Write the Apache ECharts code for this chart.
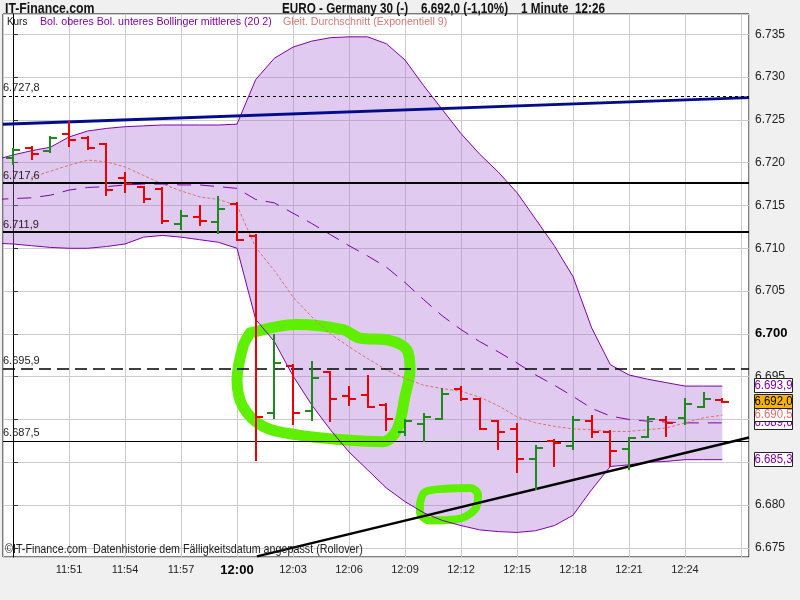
<!DOCTYPE html>
<html><head><meta charset="utf-8">
<script src="https://cdn.jsdelivr.net/npm/echarts@6/dist/echarts.min.js"></script>
<style>html,body{margin:0;padding:0;background:#f0f0f0}#c{width:800px;height:600px}</style>
</head><body><div id="c"></div>
<script>
// ---------- DATA ----------
const xTickLabels = ['11:51','11:54','11:57','12:00','12:03','12:06','12:09','12:12','12:15','12:18','12:21','12:24'];
const yTickLabels = ['6.675','6.680','6.685','6.690','6.695','6.700','6.705','6.710','6.715','6.720','6.725','6.730','6.735'];

// one bar per minute, index 0 = 11:48
const barOpen  = [6720.5,6721.7,6721.4,6723.4,6722.9,6722.2,6718.2,6717.1,6716.9,6712.8,6713.6,6713.1,6715.2,6711.4,6690.8,6696.2,6691.0,6695.5,6692.7,6692.8,6691.7,6688.5,6689.5,6690.1,6693.5,6692.4,6689.8,6688.9,6685.4,6687.5,6686.9,6689.8,6688.5,6686.5,6688.0,6689.9,6690.2,6691.5,6692.3];
const barHigh  = [6721.6,6721.8,6723.0,6724.8,6723.0,6722.2,6718.8,6717.2,6717.0,6714.4,6714.9,6716.0,6715.3,6711.6,6699.9,6696.4,6696.7,6695.6,6693.8,6695.1,6691.8,6689.9,6690.6,6693.6,6693.8,6692.4,6689.8,6689.5,6686.9,6687.6,6690.3,6690.4,6688.6,6687.8,6690.3,6690.3,6692.4,6693.1,6692.4];
const barLow   = [6719.9,6720.4,6721.3,6722.0,6721.6,6716.2,6716.6,6715.4,6713.0,6712.2,6712.7,6711.8,6711.0,6685.3,6690.2,6689.5,6689.9,6689.8,6691.7,6691.5,6688.8,6688.2,6687.5,6690.0,6692.3,6688.9,6686.5,6683.9,6681.9,6684.6,6686.5,6688.0,6684.6,6684.2,6688.0,6688.1,6689.5,6691.5,6692.0];
const barClose = [6721.5,6721.0,6722.9,6722.7,6721.7,6716.8,6717.5,6715.7,6713.2,6713.8,6713.2,6714.6,6711.0,6690.3,6696.6,6690.8,6694.8,6692.4,6692.4,6691.5,6690.1,6689.8,6690.3,6693.0,6692.4,6688.9,6688.5,6685.4,6686.7,6687.3,6689.9,6688.5,6686.3,6687.8,6690.0,6689.6,6691.8,6692.4,6692.0];

const bandStart = -1;   // index of first Bollinger value
const bandUpper  = [6720.3,6720.9,6721.4,6721.8,6723.0,6723.7,6724.0,6724.2,6724.3,6724.4,6724.4,6724.4,6724.4,6724.5,6729.7,6732.2,6733.5,6734.2,6734.6,6734.7,6734.7,6733.9,6732.0,6729.0,6726.2,6723.4,6721.0,6718.9,6716.5,6713.4,6710.3,6706.7,6700.7,6696.4,6695.2,6694.7,6694.3,6693.9,6693.9,6693.9];
const bandLower  = [6710.6,6710.5,6710.3,6710.1,6710.0,6710.0,6710.2,6710.5,6711.3,6711.5,6711.3,6711.0,6710.7,6710.0,6701.7,6699.1,6695.1,6691.7,6688.8,6686.2,6684.1,6682.0,6680.4,6679.1,6678.2,6677.6,6677.1,6676.9,6676.8,6677.0,6677.6,6678.8,6681.8,6684.5,6684.7,6685.0,6685.1,6685.3,6685.3,6685.3];
const bandMiddle = [6715.7,6715.8,6715.9,6716.2,6716.8,6717.1,6717.2,6717.4,6717.5,6717.5,6717.4,6717.4,6717.2,6717.0,6715.7,6715.3,6714.1,6712.9,6711.6,6710.3,6709.1,6707.8,6706.0,6704.0,6702.1,6700.5,6699.1,6697.9,6696.6,6695.2,6694.0,6692.7,6691.3,6690.4,6690.0,6689.8,6689.7,6689.6,6689.6,6689.6];

const emaStart = 1;
const emaValues = [6718.3,6719.0,6719.7,6720.3,6720.1,6719.5,6718.5,6717.5,6716.7,6716.0,6715.7,6715.0,6710.1,6707.4,6704.3,6702.0,6700.0,6698.5,6697.1,6695.8,6694.8,6694.0,6693.6,6693.3,6692.6,6691.6,6690.3,6689.6,6689.2,6688.9,6688.8,6688.6,6688.6,6688.8,6689.0,6689.6,6690.2,6690.5];

const levelValues = [6727.8, 6717.6, 6711.9, 6695.9, 6687.5];
const levelLabels = ['6.727,8','6.717,6','6.711,9','6.695,9','6.687,5'];

const blueTrend  = [[-0.54, 6724.5], [39.43, 6727.6]];
const blackTrend = [[13.07, 6674.0], [39.43, 6687.9]];

const sideLabels = [
  {value: 6689.6, text: '6.689,6', color: '#8000a8', bg: '#fff'},
  {value: 6690.5, text: '6.690,5', color: '#e07070', bg: '#fff'},
  {value: 6692.0, text: '6.692,0', color: '#000', bg: '#f8b400'},
  {value: 6693.9, text: '6.693,9', color: '#8000a8', bg: '#fff'},
  {value: 6685.3, text: '6.685,3', color: '#8000a8', bg: '#fff'}
];

const greenLoopBig = [[12.70,6700.1],[15.21,6701.1],[17.68,6700.5],[18.59,6699.5],[20.04,6699.3],[21.11,6698.1],[21.27,6695.8],[21.0,6692.7],[20.57,6688.8],[19.82,6687.4],[17.89,6687.6],[15.21,6688.2],[13.39,6689.2],[12.32,6691.5],[12.0,6694.6],[12.32,6698.5],[12.70,6700.1]];
const greenLoopSmall = [[21.80,6680.1],[22.07,6681.5],[23.14,6681.9],[24.48,6682.0],[24.91,6681.2],[24.75,6679.5],[23.68,6678.3],[22.34,6678.2],[21.80,6679.2],[21.80,6680.1]];

// ---------- CHART ----------
const FONT = '"Liberation Sans", Arial, sans-serif';
const RED = '#ee0000', GREEN = '#1e8a1e', PURPLE = '#8000a8';
const chart = echarts.init(document.getElementById('c'), null, {renderer: 'canvas'});

function xLabel(v) {
  const k = Math.round(v);
  if (Math.abs(v - k) > 1e-6 || k % 3 !== 0) return '';
  const idx = k / 3 - 1;
  if (idx < 0 || idx >= xTickLabels.length) return '';
  const t = xTickLabels[idx];
  return t === '12:00' ? '{b|' + t + '}' : t;
}
function yLabel(v) {
  const k = Math.round((v - 6675) / 5);
  if (Math.abs(v - (6675 + 5 * k)) > 1e-6 || k < 0 || k >= yTickLabels.length) return '';
  const t = yTickLabels[k];
  return t === '6.700' ? '{b|' + t + '}' : t;
}

const series = [
  { // Bollinger band fill (polygon between upper and lower)
    type: 'custom', z: 1, silent: true,
    data: bandUpper.map((v, k) => [bandStart + k, v, bandLower[k]]),
    encode: {x: 0, y: [1, 2]},
    renderItem: function (params, api) {
      if (params.dataIndex !== 0) return null;
      const pts = [];
      for (let k = 0; k < bandUpper.length; k++) pts.push(api.coord([bandStart + k, bandUpper[k]]));
      for (let k = bandLower.length - 1; k >= 0; k--) pts.push(api.coord([bandStart + k, bandLower[k]]));
      const cs = params.coordSys;
      return {
        type: 'polygon', shape: {points: pts},
        style: {fill: 'rgba(168,108,214,0.36)'},
        clipPath: {type: 'rect', shape: {x: cs.x, y: cs.y, width: cs.width, height: cs.height}}
      };
    }
  },
  { type: 'line', symbol: 'none', silent: true, smooth: 0.35,
    data: greenLoopBig, lineStyle: {color: '#5ef000', width: 11, cap: 'round', join: 'round'}, z: 2 },
  { type: 'line', symbol: 'none', silent: true, smooth: 0.35,
    data: greenLoopSmall, lineStyle: {color: '#5ef000', width: 8, cap: 'round', join: 'round'}, z: 2 },
  { type: 'line', symbol: 'none', silent: true,
    data: bandUpper.map((v, k) => [bandStart + k, v]), lineStyle: {color: PURPLE, width: 1}, z: 3 },
  { type: 'line', symbol: 'none', silent: true,
    data: bandLower.map((v, k) => [bandStart + k, v]), lineStyle: {color: PURPLE, width: 1}, z: 3 },
  { type: 'line', symbol: 'none', silent: true,
    data: bandMiddle.map((v, k) => [bandStart + k, v]), lineStyle: {color: PURPLE, width: 1, type: [14, 9]}, z: 3 },
  { type: 'line', symbol: 'none', silent: true,
    data: emaValues.map((v, k) => [emaStart + k, v]), lineStyle: {color: '#e07070', width: 1, type: [3, 2]}, z: 3 },
  { type: 'line', symbol: 'none', silent: true,
    data: blackTrend, lineStyle: {color: '#000', width: 2.5}, z: 4,
    markLine: {
      silent: true, symbol: ['none', 'none'], animation: false,
      data: levelValues.map((v, k) => ({
        yAxis: v,
        lineStyle: k === 0 ? {type: [3, 3], width: 1, color: '#000'}
                 : k === 3 ? {type: [12, 6], width: 1.5, color: '#000'}
                 : k === 4 ? {type: 'solid', width: 1, color: '#000'}
                 : {type: 'solid', width: 2, color: '#000'},
        label: {show: true, formatter: levelLabels[k], position: 'insideStartTop', distance: [0, 2],
                color: '#222', fontSize: 11, fontFamily: FONT}
      }))
    }
  },
  { type: 'line', symbol: 'none', silent: true,
    data: blueTrend, lineStyle: {color: '#000c8c', width: 3}, z: 4 },
  { // OHLC bars
    type: 'custom', clip: true, z: 10, silent: true,
    data: barOpen.map((o, i) => [i, o, barHigh[i], barLow[i], barClose[i]]),
    encode: {x: 0, y: [1, 2, 3, 4]},
    renderItem: function (params, api) {
      const i = api.value(0), o = api.value(1), h = api.value(2), l = api.value(3), c = api.value(4);
      const pO = api.coord([i, o]), pH = api.coord([i, h]), pL = api.coord([i, l]), pC = api.coord([i, c]);
      const x = Math.round(pO[0]);
      const col = c > o ? GREEN : RED;
      const st = {stroke: col, lineWidth: 2};
      const yo = Math.round(pO[1]), yc = Math.round(pC[1]);
      return {type: 'group', children: [
        {type: 'line', shape: {x1: x, y1: Math.round(pH[1]) - 1, x2: x, y2: Math.round(pL[1]) + 1}, style: st},
        {type: 'line', shape: {x1: x - 7, y1: yo, x2: x, y2: yo}, style: st},
        {type: 'line', shape: {x1: x, y1: yc, x2: x + 7, y2: yc}, style: st}
      ]};
    }
  }
];

const headerGraphics = [
  {type: 'text', x: 5, y: 1, scaleX: 0.82, z: 50, style: {text: 'IT-Finance.com', font: 'bold 15px ' + FONT, fill: '#111'}},
  {type: 'text', x: 282, y: 2, scaleX: 0.835, z: 50, style: {text: 'EURO - Germany 30 (-)    6.692,0 (-1,10%)    1 Minute  12:26', font: 'bold 14px ' + FONT, fill: '#111'}},
  {type: 'text', x: 7, y: 16, scaleX: 0.9, z: 50, style: {text: 'Kurs', font: '11px ' + FONT, fill: '#111'}},
  {type: 'text', x: 40, y: 16, scaleX: 0.967, z: 50, style: {text: 'Bol. oberes Bol. unteres Bollinger mittleres (20 2)', font: '11px ' + FONT, fill: PURPLE}},
  {type: 'text', x: 283, y: 16, scaleX: 0.97, z: 50, style: {text: 'Gleit. Durchschnitt (Exponentiell 9)', font: '11px ' + FONT, fill: '#d87878'}},
  {type: 'text', x: 5, y: 544, scaleX: 0.895, z: 50, style: {text: '\u00a9IT-Finance.com  Datenhistorie dem F\u00e4lligkeitsdatum angepasst (Rollover)', font: '12px ' + FONT, fill: '#222'}}
];

const option = {
  animation: false,
  backgroundColor: '#f0f0f0',
  grid: {left: 3, right: 51, top: 14, bottom: 43, show: true, backgroundColor: '#ffffff', borderColor: '#000', borderWidth: 1},
  xAxis: {
    type: 'value', min: -0.536, max: 39.43, splitNumber: 13, minInterval: 3, maxInterval: 3,
    axisLine: {show: false}, axisTick: {show: false},
    axisLabel: {formatter: xLabel, showMinLabel: false, showMaxLabel: false, margin: 7, color: '#222',
                fontSize: 11, fontFamily: FONT, rich: {b: {fontWeight: 'bold', fontSize: 13, fontFamily: FONT, color: '#000'}}},
    splitLine: {show: true, lineStyle: {color: '#cccccc', width: 1}}
  },
  yAxis: {
    type: 'value', position: 'right', min: 6673.93, max: 6737.37, splitNumber: 12, minInterval: 5, maxInterval: 5,
    axisLine: {show: true, lineStyle: {color: '#000', width: 1}},
    axisTick: {show: true, length: 5, lineStyle: {color: '#333'}},
    axisLabel: {formatter: yLabel, showMinLabel: false, showMaxLabel: false, margin: 6, color: '#222',
                fontSize: 12, fontFamily: FONT, rich: {b: {fontWeight: 'bold', fontSize: 13, fontFamily: FONT, color: '#000'}}},
    splitLine: {show: true, lineStyle: {color: '#cccccc', width: 1}}
  },
  series: series,
  graphic: headerGraphics
};
chart.setOption(option);

// right-side value boxes positioned through the y axis scale
const boxes = [];
sideLabels.forEach((s, n) => {
  const y = Math.round(chart.convertToPixel({yAxisIndex: 0}, s.value));
  boxes.push({type: 'rect', z: 100 + n * 2, shape: {x: 754.5, y: y - 7.5, width: 38, height: 14}, style: {fill: s.bg, stroke: '#222', lineWidth: 1}});
  boxes.push({type: 'text', z: 101 + n * 2, x: 773.5, y: y, scaleX: 0.95, style: {text: s.text, align: 'center', verticalAlign: 'middle', font: '12px ' + FONT, fill: s.color}});
});
chart.setOption({graphic: headerGraphics.concat(boxes)});
</script></body></html>
